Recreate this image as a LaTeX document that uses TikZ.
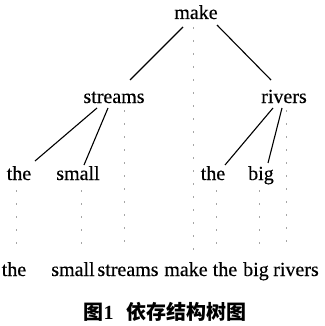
\documentclass[tikz,border=0pt]{standalone}
\usepackage{fontspec}
\setmainfont{Liberation Serif}
\newfontfamily\wf{Liberation Serif}[FakeBold=0.35]
\newfontfamily\cjk{Noto Sans CJK SC}
\usetikzlibrary{calc}
\begin{document}
\begin{tikzpicture}[x=1pt,y=-1pt,
  word/.style={font=\wf\fontsize{20}{24}\selectfont, inner sep=0pt, anchor=base, text height=14pt, text depth=4pt},
  arc/.style={line width=1.1pt, black},
  dotline/.style={line width=0.7pt, gray!70, dash pattern=on 2pt off 11pt}]
\useasboundingbox (0,0) rectangle (324,326);
% tree nodes
\node[word] (make) at (196,19) {make};
\node[word] (streams) at (114,103) {streams};
\node[word] (rivers) at (284,103) {rivers};
\node[word] (t1) at (19,180) {the};
\node[word] (sm) at (78,180) {small};
\node[word] (t2) at (213,180) {the};
\node[word] (bg) at (261,180) {big};
% sentence
\node[word] (b1) at (14,276) {the};
\node[word] (b2) at (73,276) {small};
\node[word] (b3) at (128,276) {streams};
\node[word] (b4) at (186,276) {make};
\node[word] (b5) at (225,276) {the};
\node[word] (b6) at (256,276) {big};
\node[word] (b7) at (296,276) {rivers};
% caption
\node[inner sep=0pt, font=\cjk\bfseries\fontsize{20}{23}\selectfont] (cap) at (165,312)
  {图{\rmfamily\bfseries 1}\hspace{0.65em}依存结构树图};
% dependency arcs
\draw[arc] ($(make.base)+(-13,8)$) -- ($(streams.base)+(16,-23)$);
\draw[arc] ($(make.base)+(21,6)$) -- ($(rivers.base)+(-13,-23)$);
\draw[arc] ($(streams.base)+(-17,5)$) -- ($(t1.base)+(16,-19)$);
\draw[arc] ($(streams.base)+(-6,5)$) -- ($(sm.base)+(6,-15)$);
\draw[arc] ($(rivers.base)+(-11,5)$) -- ($(t2.base)+(12,-15)$);
\draw[arc] ($(rivers.base)+(-2,5)$) -- ($(bg.base)+(7,-17)$);
% projection lines
\coordinate (bot) at ($(b4.base)+(0,-24)$);
\coordinate (dmake) at ($(make.base)+(-3,8)$);
\coordinate (dstr) at ($(streams.base)+(10,7)$);
\coordinate (driv) at ($(rivers.base)+(2,7)$);
\coordinate (dt1) at ($(t1.base)+(-3,10)$);
\coordinate (dsm) at ($(sm.base)+(3,10)$);
\coordinate (dt2) at ($(t2.base)+(3,10)$);
\coordinate (dbg) at ($(bg.base)+(-2,10)$);
\foreach \c in {dmake,dstr,driv,dt1,dsm,dt2,dbg}
  \draw[dotline] (\c) -- (\c |- bot);
\end{tikzpicture}
\end{document}
